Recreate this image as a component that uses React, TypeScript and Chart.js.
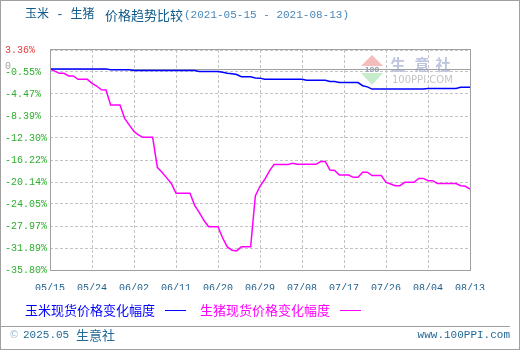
import React, { useEffect, useRef } from "react";
import { Chart, registerables } from "chart.js";

Chart.register(...registerables);

const titleMain = "玉米 - 生猪";
const titleSub = "价格趋势比较";
const titleRange = "(2021-05-15 - 2021-08-13)";
const cornLabel = "玉米现货价格变化幅度";
const hogLabel = "生猪现货价格变化幅度";
const footerLeftYear = "2025.05";
const footerLeftName = "生意社";
const footerRight = "www.100PPI.com";

const xTickLabels = ["05/15", "05/24", "06/02", "06/11", "06/20", "06/29", "07/08", "07/17", "07/26", "08/04", "08/13"];
const yTickValues = [3.36, -0.55, -4.47, -8.39, -12.3, -16.22, -20.14, -24.05, -27.97, -31.89, -35.8];
const yTickLabels = ["3.36%", "-0.55%", "-4.47%", "-8.39%", "-12.30%", "-16.22%", "-20.14%", "-24.05%", "-27.97%", "-31.89%", "-35.80%"];

// day offset from 2021-05-15
const cornDays = [0, 12, 13, 17, 18, 31, 32, 36, 37, 38, 39, 40, 41, 43, 44, 45, 46, 54, 55, 59, 60, 61, 62, 66, 67, 68, 69, 80, 81, 87, 88, 90];
const cornValues = [0, 0, -0.15, -0.15, -0.3, -0.3, -0.48, -0.48, -0.62, -0.78, -0.88, -1.0, -1.4, -1.4, -1.62, -1.65, -1.86, -1.86, -2.02, -2.02, -2.24, -2.24, -2.44, -2.44, -3.0, -3.2, -3.6, -3.6, -3.5, -3.5, -3.28, -3.28];

const hogDays = [0, 1, 2, 3, 4, 5, 6, 8, 9, 10, 11, 12, 13, 15, 16, 17, 18, 19, 20, 22, 23, 24, 25, 26, 27, 30, 31, 32, 33, 34, 36, 37, 38, 39, 40, 41, 43, 44, 45, 46, 47, 48, 51, 52, 53, 57, 58, 59, 60, 61, 62, 64, 65, 66, 67, 68, 69, 71, 72, 73, 74, 75, 76, 78, 79, 80, 81, 82, 83, 87, 88, 89, 90];
const hogValues = [0, -0.4, -0.79, -0.79, -1.27, -1.27, -1.86, -1.86, -2.57, -3.05, -3.72, -3.76, -6.43, -6.43, -8.8, -10.0, -11.15, -11.8, -12.19, -12.19, -17.52, -18.4, -19.4, -20.4, -22.15, -22.15, -24.3, -25.6, -27.0, -28.1, -28.1, -30.1, -31.7, -32.3, -32.4, -31.64, -31.64, -22.6, -20.9, -19.7, -18.2, -17.0, -17.0, -16.8, -16.99, -16.99, -16.5, -16.5, -18.0, -18.1, -18.9, -18.9, -19.3, -19.3, -18.4, -18.4, -19.0, -19.0, -20.2, -20.5, -20.8, -20.8, -20.2, -20.2, -19.5, -19.5, -19.9, -19.9, -20.4, -20.4, -20.8, -20.9, -21.4];

const MONO = "'Liberation Mono', 'DejaVu Sans Mono', monospace";
const CJK = "'Noto Sans CJK SC', 'Noto Sans', sans-serif";

const decorPlugin = {
  id: "decor",
  beforeDatasetsDraw(chart: any) {
    const ctx: CanvasRenderingContext2D = chart.ctx;
    const a = chart.chartArea;
    ctx.save();
    // watermark
    ctx.fillStyle = "#f5bcbc";
    ctx.beginPath();
    ctx.moveTo(372, 55);
    ctx.lineTo(383, 66);
    ctx.lineTo(361, 66);
    ctx.closePath();
    ctx.fill();
    ctx.fillStyle = "#c6ecca";
    ctx.beginPath();
    ctx.moveTo(361, 73);
    ctx.lineTo(383, 73);
    ctx.lineTo(372, 85);
    ctx.closePath();
    ctx.fill();
    ctx.fillStyle = "#9aa2ba";
    ctx.font = "bold 7px 'DejaVu Sans', sans-serif";
    ctx.textAlign = "center";
    ctx.textBaseline = "middle";
    ctx.fillText("100", 372, 70);
    ctx.fillStyle = "#bcc4de";
    ctx.font = "bold 15px " + CJK;
    ctx.fillText("生", 398, 64);
    ctx.fillText("意", 422, 64);
    ctx.fillText("社", 443, 64);
    ctx.fillStyle = "#c4c4c4";
    ctx.font = "10px 'DejaVu Sans', sans-serif";
    ctx.textAlign = "left";
    ctx.fillText("100PPI.COM", 392, 80);
    // zero line
    const y0 = Math.round(chart.scales.y.getPixelForValue(0)) + 0.5;
    ctx.strokeStyle = "#a0a0a0";
    ctx.lineWidth = 1;
    ctx.beginPath();
    ctx.moveTo(a.left, y0);
    ctx.lineTo(a.right, y0);
    ctx.stroke();
    ctx.restore();
  },
  afterDraw(chart: any) {
    const ctx: CanvasRenderingContext2D = chart.ctx;
    const a = chart.chartArea;
    ctx.save();
    // plot frame
    ctx.strokeStyle = "#a0a0a0";
    ctx.lineWidth = 1;
    ctx.strokeRect(Math.round(a.left) + 0.5, Math.round(a.top) - 0.5, Math.round(a.right - a.left), Math.round(a.bottom - a.top) + 1);
    // outer border
    ctx.strokeStyle = "#a0a0a0";
    ctx.strokeRect(0.5, 0.5, 519, 349);
    // footer separator
    ctx.beginPath();
    ctx.moveTo(1, 326.5);
    ctx.lineTo(510, 326.5);
    ctx.stroke();
    // zero label
    ctx.fillStyle = "#a0a0a0";
    ctx.font = "10px " + MONO;
    ctx.textAlign = "left";
    ctx.textBaseline = "middle";
    ctx.fillText("0", 5, 66);
    // title
    ctx.fillStyle = "#0f5a8a";
    ctx.font = "12px " + MONO + ", " + CJK;
    ctx.fillText(titleMain, 25, 15);
    ctx.font = "13px " + CJK;
    ctx.fillText(titleSub, 105, 15);
    ctx.fillStyle = "#4a86b6";
    ctx.font = "11px " + MONO;
    ctx.fillText(titleRange, 184, 15);
    // legend
    ctx.font = "13px " + CJK;
    ctx.fillStyle = "#0000ff";
    ctx.fillText(cornLabel, 25, 310);
    ctx.strokeStyle = "#0000ff";
    ctx.beginPath();
    ctx.moveTo(165, 310.5);
    ctx.lineTo(186, 310.5);
    ctx.stroke();
    ctx.fillStyle = "#ff00ff";
    ctx.fillText(hogLabel, 200, 310);
    ctx.strokeStyle = "#ff00ff";
    ctx.beginPath();
    ctx.moveTo(340, 310.5);
    ctx.lineTo(361, 310.5);
    ctx.stroke();
    // footer
    ctx.fillStyle = "#9dbbd2";
    ctx.font = "10px 'DejaVu Sans', sans-serif";
    ctx.fillText("©", 9, 335);
    ctx.fillStyle = "#246a96";
    ctx.font = "11px " + MONO;
    ctx.fillText(footerLeftYear, 23, 335);
    ctx.font = "13px " + CJK;
    ctx.fillText(footerLeftName, 76, 335);
    ctx.font = "11px " + MONO;
    ctx.textAlign = "right";
    ctx.fillText(footerRight, 510, 335);
    ctx.restore();
  },
};

export default function App() {
  const ref = useRef<HTMLCanvasElement | null>(null);
  useEffect(() => {
    if (!ref.current) return;
    const chart = new Chart(ref.current, {
      type: "line",
      data: {
        datasets: [
          {
            label: cornLabel,
            data: cornDays.map((d, i) => ({ x: d, y: cornValues[i] })),
            borderColor: "#0000ff",
            borderWidth: 1.5,
            pointRadius: 0,
            tension: 0,
            fill: false,
          },
          {
            label: hogLabel,
            data: hogDays.map((d, i) => ({ x: d, y: hogValues[i] })),
            borderColor: "#ff00ff",
            borderWidth: 1.5,
            pointRadius: 0,
            tension: 0,
            fill: false,
          },
        ],
      },
      options: {
        responsive: false,
        animation: false,
        events: [],
        layout: { padding: { left: 5, top: 50, right: 50, bottom: 60 } },
        plugins: { legend: { display: false }, tooltip: { enabled: false }, title: { display: false } },
        scales: {
          x: {
            type: "linear",
            min: 0,
            max: 90,
            afterFit: (s: any) => {
              s.height = 20;
            },
            ticks: {
              stepSize: 9,
              autoSkip: false,
              maxRotation: 0,
              padding: 12,
              color: "#1e5f8a",
              font: { family: MONO, size: 10 },
              callback: (_v: any, i: number) => xTickLabels[i],
            },
            grid: { color: "#c4c4c4", drawTicks: false, lineWidth: 1 },
            border: { display: false, dash: [3, 2] },
          },
          y: {
            type: "linear",
            min: -35.8,
            max: 3.36,
            afterBuildTicks: (s: any) => {
              s.ticks = yTickValues.map((v) => ({ value: v }));
            },
            afterFit: (s: any) => {
              s.width = 45;
            },
            ticks: {
              crossAlign: "far",
              autoSkip: false,
              color: (c: any) => (c.index === 0 ? "#e83a3a" : "#2eae2e"),
              font: { family: MONO, size: 10 },
              callback: (_v: any, i: number) => yTickLabels[i],
            },
            grid: { color: "#c4c4c4", drawTicks: false, lineWidth: 1 },
            border: { display: false, dash: [3, 2] },
          },
        },
      },
      plugins: [decorPlugin],
    } as any);
    return () => chart.destroy();
  }, []);
  return (
    <div style={{ position: "absolute", left: 0, top: 0, width: 520, height: 350, background: "#fff" }}>
      <canvas ref={ref} width={520} height={350} style={{ display: "block" }} />
    </div>
  );
}
